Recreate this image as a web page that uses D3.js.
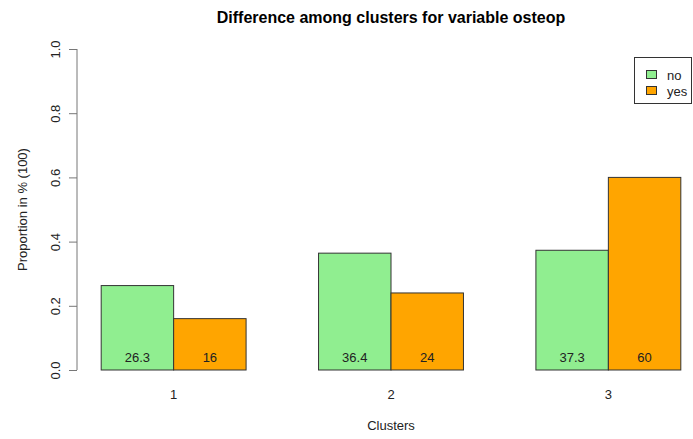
<!DOCTYPE html>
<html>
<head>
<meta charset="utf-8">
<script src="https://cdn.jsdelivr.net/npm/d3@7"></script>
<style>
  body { margin: 0; background: #fff; }
  text { font-family: "Liberation Sans", Arial, sans-serif; fill: #222; }
</style>
</head>
<body>
<svg id="chart"></svg>
<script>
// data
let clusters = ["1", "2", "3"];
let groups = ["no", "yes"];
let noValues = [0.263, 0.364, 0.373];
let yesValues = [0.16, 0.24, 0.60];
let yTicks = [0, 0.2, 0.4, 0.6, 0.8, 1.0];
let colors = ["#90EE90", "#FFA500"];

let width = 693;
let height = 439;
let fs = 13;

let svg = d3.select("#chart")
    .attr("width", width)
    .attr("height", height);

// R style barplot: bar units, groups of 2 separated by one bar width
let xScale = d3.scaleLinear()
    .domain([0.68, 9.32])
    .range([78, 704]);

let yScale = d3.scaleLinear()
    .domain([0, 1])
    .range([370, 49]);

let bars = [];
clusters.forEach((c, i) => {
    let start = 1 + i * 3;
    bars.push({ cluster: c, group: 0, x0: start, value: noValues[i] });
    bars.push({ cluster: c, group: 1, x0: start + 1, value: yesValues[i] });
});

svg.selectAll("rect.bar")
    .data(bars)
    .enter()
    .append("rect")
    .attr("class", "bar")
    .attr("x", d => xScale(d.x0))
    .attr("width", d => xScale(d.x0 + 1) - xScale(d.x0))
    .attr("y", d => yScale(d.value))
    .attr("height", d => yScale(0) - yScale(d.value))
    .attr("fill", d => colors[d.group])
    .attr("stroke", "#333")
    .attr("stroke-width", 1);

// value labels inside bars, as percentages
svg.selectAll("text.val")
    .data(bars)
    .enter()
    .append("text")
    .attr("class", "val")
    .attr("x", d => xScale(d.x0 + 0.5))
    .attr("y", yScale(0.04))
    .attr("dy", "0.35em")
    .attr("text-anchor", "middle")
    .attr("font-size", fs)
    .text(d => +(d.value * 100).toFixed(1));

// y axis
let yAxis = d3.axisLeft(yScale)
    .tickValues(yTicks)
    .tickSize(8)
    .tickFormat(d3.format(".1f"));

let yg = svg.append("g")
    .attr("transform", "translate(77,0)")
    .call(yAxis);

yg.select(".domain").attr("stroke", "#777").attr("d", "M0," + yScale(0) + "V" + yScale(1));
yg.selectAll(".tick line").attr("stroke", "#777");
yg.selectAll(".tick text")
    .attr("font-size", fs)
    .attr("font-family", "Liberation Sans, Arial, sans-serif")
    .attr("fill", "#222")
    .attr("x", null)
    .attr("dy", null)
    .attr("text-anchor", "middle")
    .attr("transform", "translate(-17,0) rotate(-90)");

// x labels
svg.selectAll("text.xlab")
    .data(clusters)
    .enter()
    .append("text")
    .attr("class", "xlab")
    .attr("x", (d, i) => xScale(2 + i * 3))
    .attr("y", 394)
    .attr("dy", "0.35em")
    .attr("text-anchor", "middle")
    .attr("font-size", fs)
    .text(d => d);

svg.append("text")
    .attr("x", xScale(5))
    .attr("y", 425)
    .attr("dy", "0.35em")
    .attr("text-anchor", "middle")
    .attr("font-size", fs)
    .text("Clusters");

svg.append("text")
    .attr("transform", "translate(27," + yScale(0.5) + ") rotate(-90)")
    .attr("text-anchor", "middle")
    .attr("font-size", fs)
    .text("Proportion in % (100)");

svg.append("text")
    .attr("x", xScale(5))
    .attr("y", 23)
    .attr("text-anchor", "middle")
    .attr("font-size", 16)
    .attr("font-weight", "bold")
    .style("fill", "#000")
    .text("Difference among clusters for variable osteop");

// legend
let legend = svg.append("g");
legend.append("rect")
    .attr("x", 634.5)
    .attr("y", 57.5)
    .attr("width", 57)
    .attr("height", 46)
    .attr("fill", "none")
    .attr("stroke", "#333");

groups.forEach((g, i) => {
    legend.append("rect")
        .attr("x", 646.5)
        .attr("y", 70.5 + i * 16)
        .attr("width", 10)
        .attr("height", 8)
        .attr("fill", colors[i])
        .attr("stroke", "#333");
    legend.append("text")
        .attr("x", 667)
        .attr("y", 75 + i * 16)
        .attr("dy", "0.35em")
        .attr("font-size", fs)
        .text(g);
});
</script>
</body>
</html>
